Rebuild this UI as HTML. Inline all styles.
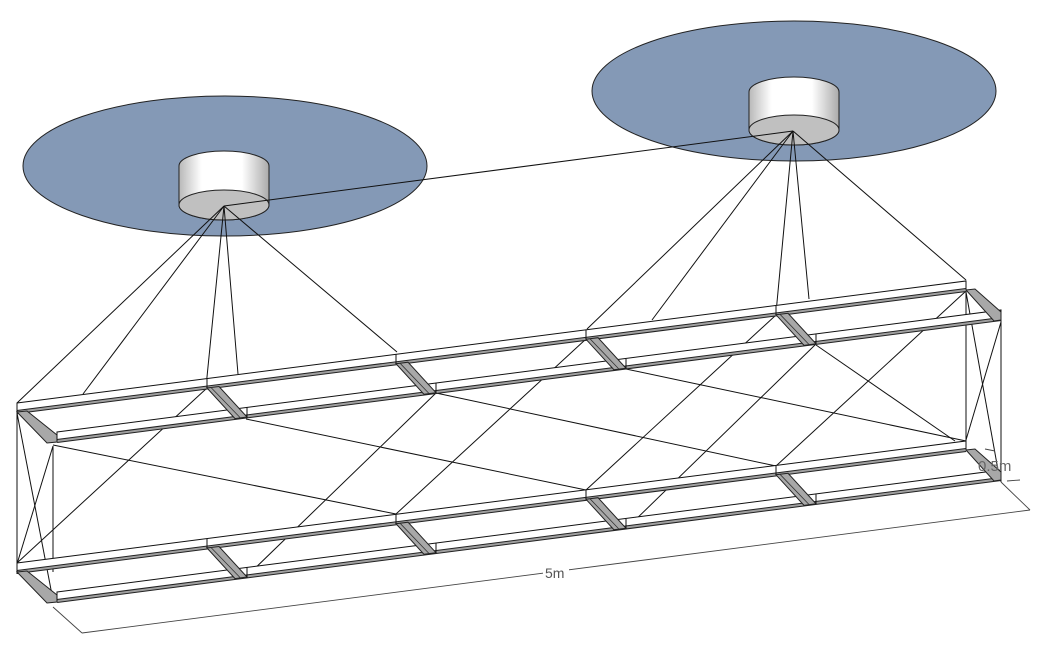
<!DOCTYPE html>
<html><head><meta charset="utf-8"><style>
html,body{margin:0;padding:0;background:#fff;}
svg{display:block;}
text{font-family:"Liberation Sans",sans-serif;}
</style></head><body>
<svg width="1047" height="650" viewBox="0 0 1047 650" xmlns="http://www.w3.org/2000/svg">
<defs>
<linearGradient id="cyl" x1="0" x2="1" y1="0" y2="0">
<stop offset="0" stop-color="#b8b8b8"/><stop offset="0.25" stop-color="#fff"/><stop offset="0.7" stop-color="#fff"/><stop offset="1" stop-color="#aaa"/>
</linearGradient>
<g id="frame" stroke="#111" stroke-width="1">
  <!-- far rail -->
  <polygon points="17,403 966,281 966,290 17,412" fill="#fff"/>
  <line x1="17" y1="412" x2="966" y2="290" stroke-width="4" stroke="#222"/>
  <line x1="17" y1="412" x2="966" y2="290" stroke-width="2" stroke="#a0a0a0"/>
  <!-- near rail -->
  <polygon points="57,432 1001,310 1001,319 57,441" fill="#fff"/>
  <line x1="57" y1="441" x2="1001" y2="319" stroke-width="4" stroke="#222"/>
  <line x1="57" y1="441" x2="1001" y2="319" stroke-width="2" stroke="#a0a0a0"/>
  <!-- bars -->
  <g fill="#a8a8a8" stroke="#222">
    <polygon points="17,412 27,411 57,435 57,442 47,443"/>
    <polygon points="207,388 219,386.5 247,417 235,418.6"/>
    <polygon points="396,363.7 408,362.2 436,392.7 424,394.3"/>
    <polygon points="586,339.3 598,337.7 626,368.3 614,369.8"/>
    <polygon points="776,314.8 788,313.3 816,343.8 804,345.4"/>
    <polygon points="966,290 975,289 1001,312 1001,320 994,321"/>
  </g>
  <g stroke="#333" stroke-width="0.8">
    <line x1="211" y1="387.5" x2="240" y2="417.5"/>
    <line x1="400" y1="363.2" x2="429" y2="393.5"/>
    <line x1="590" y1="338.8" x2="619" y2="369.1"/>
    <line x1="780" y1="314.3" x2="809" y2="344.5"/>
  </g>
  <g stroke="#111">
    <line x1="17" y1="403" x2="17" y2="412"/>
    <line x1="57" y1="432" x2="57" y2="441"/>
    <line x1="207" y1="378.5" x2="207" y2="388"/>
    <line x1="396" y1="354.2" x2="396" y2="363.7"/>
    <line x1="586" y1="329.8" x2="586" y2="339.3"/>
    <line x1="776" y1="305.3" x2="776" y2="314.8"/>
    <line x1="247" y1="407.5" x2="247" y2="417"/>
    <line x1="436" y1="383.2" x2="436" y2="392.7"/>
    <line x1="626" y1="358.8" x2="626" y2="368.3"/>
    <line x1="816" y1="334.3" x2="816" y2="343.8"/>
  </g>
</g>
</defs>

<ellipse cx="225" cy="166" rx="202" ry="70" fill="#8499b6" stroke="#222" stroke-width="1"/>
<ellipse cx="794" cy="91" rx="202" ry="70" fill="#8499b6" stroke="#222" stroke-width="1"/>

<g stroke="#222" stroke-width="1">
  <path d="M179,166 A45,15 0 0 1 269,166 L269,205 A45,15 0 0 1 179,205 Z" fill="url(#cyl)"/>
  <ellipse cx="224" cy="205" rx="45" ry="15" fill="#c0c0c0"/>
  <path d="M749,92 A45,15 0 0 1 839,92 L839,130 A45,15 0 0 1 749,130 Z" fill="url(#cyl)"/>
  <ellipse cx="794" cy="130" rx="45" ry="15" fill="#c0c0c0"/>
</g>

<g stroke="#111" stroke-width="1" fill="none">
  <line x1="224" y1="206" x2="793" y2="131"/>
  <line x1="224" y1="206" x2="17" y2="403"/>
  <line x1="224" y1="206" x2="83" y2="394"/>
  <line x1="224" y1="206" x2="206" y2="387"/>
  <line x1="224" y1="206" x2="238" y2="374"/>
  <line x1="224" y1="206" x2="397" y2="352"/>
  <line x1="793" y1="131" x2="587" y2="329"/>
  <line x1="793" y1="131" x2="652" y2="320"/>
  <line x1="793" y1="131" x2="776" y2="313"/>
  <line x1="793" y1="131" x2="809" y2="299"/>
  <line x1="793" y1="131" x2="966" y2="280"/>
</g>

<g stroke="#111" stroke-width="1" fill="none">
  <line x1="17" y1="403" x2="17" y2="574"/>
  <line x1="53" y1="446" x2="53" y2="572"/>
  <line x1="17" y1="413" x2="53" y2="600"/>
  <line x1="53" y1="446" x2="17" y2="564"/>
  <line x1="966" y1="281" x2="966" y2="442"/>
  <line x1="1001" y1="320" x2="1001" y2="482"/>
  <line x1="966" y1="292" x2="998" y2="470"/>
  <line x1="1001" y1="322" x2="966" y2="440"/>
  <line x1="17" y1="563" x2="207" y2="388"/>
  <line x1="53" y1="445" x2="396" y2="514"/>
  <line x1="246" y1="577" x2="436" y2="393"/>
  <line x1="246" y1="419" x2="586" y2="490"/>
  <line x1="396" y1="514" x2="586" y2="339"/>
  <line x1="436" y1="393" x2="776" y2="466"/>
  <line x1="586" y1="490" x2="776" y2="315"/>
  <line x1="626" y1="369" x2="966" y2="441"/>
  <line x1="626" y1="529" x2="816" y2="344"/>
  <line x1="776" y1="466" x2="966" y2="291"/>
  <line x1="816" y1="345" x2="955" y2="441"/>
</g>

<use href="#frame"/>
<use href="#frame" y="160"/>

<g stroke="#444" stroke-width="0.9" fill="none">
  <line x1="53" y1="607" x2="82" y2="633"/>
  <line x1="82" y1="633" x2="1030" y2="510"/>
  <line x1="1001" y1="482" x2="1030" y2="510"/>
  <line x1="985" y1="449" x2="995" y2="451"/>
  <line x1="1007" y1="481" x2="1020" y2="480"/>
</g>
<rect x="543" y="565" width="26" height="15" fill="#fff"/>
<text x="545" y="578" font-size="14" fill="#555">5m</text>
<text x="978" y="471" font-size="15" fill="#666">0.5m</text>
</svg>
</body></html>
